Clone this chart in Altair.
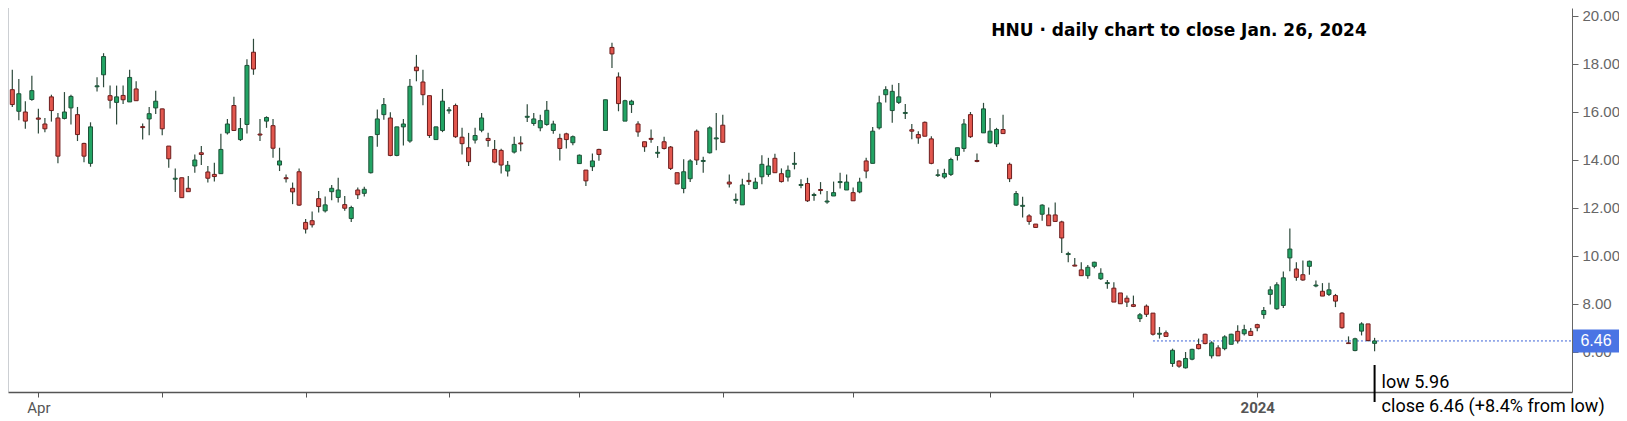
import altair as alt
import pandas as pd

# ---- OHLC values (daily candles, oldest first) ----
opens = [16.93, 16.03, 16.00, 16.52, 15.75, 15.50, 16.63, 15.75, 15.73, 16.17,
         15.89, 14.69, 13.86, 17.05, 17.55, 16.68, 16.40, 16.69, 16.42, 16.96,
         15.39, 15.71, 16.17, 16.13, 14.58, 13.20, 13.26, 12.82, 13.75, 14.30,
         13.50, 13.40, 13.43, 15.13, 16.27, 14.85, 15.48, 18.49, 15.08, 15.62,
         15.43, 13.79, 13.26, 12.82, 13.51, 11.40, 11.47, 12.39, 11.88, 12.68,
         12.44, 12.14, 11.56, 12.75, 12.61, 13.47, 15.06, 15.89, 15.75, 14.19,
         15.38, 14.79, 17.87, 17.25, 16.68, 14.85, 15.23, 16.05, 16.27, 14.95,
         14.51, 14.83, 15.24, 14.90, 14.44, 14.40, 13.54, 14.33, 14.71, 15.78,
         15.52, 15.34, 15.48, 15.23, 14.90, 15.09, 14.72, 13.85, 13.58, 13.72,
         14.44, 15.23, 18.69, 17.46, 15.62, 16.31, 15.50, 14.76, 14.90, 14.28,
         14.76, 14.54, 13.47, 12.81, 13.22, 15.20, 13.94, 14.30, 14.88, 15.45,
         13.08, 12.32, 12.13, 13.15, 12.81, 13.30, 13.40, 14.07, 13.43, 13.29,
         13.82, 12.94, 13.02, 12.52, 12.77, 12.25, 12.50, 13.06, 12.75, 12.64,
         12.67, 13.96, 13.86, 15.34, 16.72, 16.06, 16.40, 15.94, 15.26, 15.06,
         15.57, 14.88, 13.36, 13.29, 13.40, 14.19, 14.48, 15.89, 13.98, 15.13,
         14.72, 14.67, 15.27, 13.82, 12.12, 12.07, 11.67, 11.33, 11.74, 11.71,
         11.71, 11.42, 10.06, 9.62, 9.42, 9.18, 9.57, 9.05, 8.85, 8.66,
         8.46, 8.24, 7.97, 7.39, 7.91, 7.62, 6.74, 6.80, 5.52, 5.62,
         5.34, 5.70, 6.31, 6.74, 5.84, 6.17, 6.14, 6.32, 6.86, 6.76,
         6.86, 7.14, 7.56, 8.40, 7.80, 7.94, 9.92, 9.46, 9.22, 9.57,
         8.75, 8.53, 8.40, 8.35, 7.62, 6.38, 6.06, 6.87, 7.17, 6.36]
highs = [17.76, 17.37, 16.45, 17.51, 16.13, 15.75, 16.72, 15.96, 16.83, 16.72,
         16.21, 14.72, 15.57, 17.45, 18.45, 17.10, 17.10, 17.10, 17.76, 17.28,
         15.52, 16.21, 16.89, 16.13, 14.58, 13.65, 13.26, 13.33, 14.23, 14.58,
         13.75, 13.89, 15.09, 15.71, 16.63, 15.75, 18.20, 19.05, 15.71, 15.82,
         15.71, 14.51, 13.40, 13.06, 13.65, 11.54, 11.85, 12.71, 12.48, 12.96,
         13.26, 12.50, 12.09, 12.85, 12.89, 14.99, 16.10, 16.58, 15.99, 15.38,
         15.71, 17.37, 18.38, 17.76, 16.68, 15.38, 16.96, 16.21, 16.35, 15.34,
         15.13, 15.34, 15.96, 15.13, 14.83, 14.47, 13.96, 14.97, 14.99, 16.32,
         15.96, 15.89, 16.46, 15.64, 15.09, 15.13, 15.02, 14.23, 13.58, 14.27,
         14.47, 16.51, 18.89, 17.65, 16.51, 16.51, 15.61, 14.76, 15.27, 14.58,
         14.97, 14.58, 13.47, 14.03, 14.03, 15.27, 14.14, 15.41, 15.96, 15.89,
         13.40, 12.60, 13.22, 13.47, 13.26, 14.20, 14.09, 14.26, 13.65, 13.77,
         14.33, 13.20, 13.26, 12.64, 13.08, 12.71, 13.10, 13.47, 13.40, 12.85,
         13.26, 14.09, 15.37, 16.68, 17.07, 17.14, 17.21, 16.33, 15.50, 15.20,
         15.60, 14.99, 13.61, 13.64, 14.09, 14.51, 15.71, 16.00, 14.27, 16.38,
         15.75, 15.34, 15.89, 13.89, 12.71, 12.47, 11.74, 11.33, 12.16, 12.02,
         12.23, 11.47, 10.18, 9.92, 9.74, 9.62, 9.76, 9.49, 9.00, 8.91,
         8.46, 8.35, 8.35, 7.62, 7.98, 7.62, 7.04, 6.90, 6.14, 5.66,
         6.00, 6.14, 6.56, 6.76, 6.45, 6.28, 6.70, 6.76, 7.11, 7.14,
         7.00, 7.18, 7.87, 8.74, 8.91, 9.35, 11.15, 9.74, 9.81, 9.81,
         8.98, 8.87, 8.88, 8.42, 7.66, 6.65, 6.59, 7.24, 7.17, 6.59]
lows = [16.21, 15.66, 15.30, 16.47, 15.10, 15.16, 15.60, 13.86, 15.69, 15.48,
        14.79, 13.91, 13.72, 16.85, 17.03, 16.15, 15.48, 16.33, 16.42, 16.47,
        14.85, 15.03, 15.92, 15.03, 13.68, 12.67, 12.43, 12.68, 13.47, 13.79,
        13.06, 13.10, 13.43, 15.06, 15.23, 14.79, 15.10, 17.55, 14.79, 15.34,
        14.09, 13.54, 13.06, 12.16, 12.09, 10.94, 11.19, 11.81, 11.81, 12.32,
        12.23, 11.88, 11.42, 12.37, 12.48, 13.44, 14.55, 15.68, 14.16, 14.16,
        14.60, 14.72, 17.28, 16.28, 14.92, 14.85, 15.16, 15.93, 14.92, 14.23,
        13.75, 14.69, 15.16, 14.55, 13.86, 13.44, 13.31, 14.27, 14.36, 15.58,
        15.43, 15.20, 15.43, 15.09, 13.98, 14.48, 14.61, 13.85, 12.92, 13.54,
        13.97, 15.23, 17.83, 16.03, 15.62, 15.96, 14.97, 14.34, 14.72, 14.09,
        14.44, 13.58, 13.00, 12.61, 13.08, 13.79, 13.47, 14.27, 14.41, 14.72,
        12.85, 12.18, 12.13, 12.96, 12.78, 12.99, 13.30, 13.47, 13.06, 13.10,
        13.61, 12.82, 12.25, 12.30, 12.57, 12.18, 12.50, 12.81, 12.75, 12.30,
        12.61, 13.24, 13.86, 15.27, 16.40, 15.55, 16.33, 15.71, 14.86, 14.68,
        14.99, 13.82, 13.29, 13.22, 13.33, 13.98, 14.34, 14.92, 13.91, 15.13,
        14.69, 14.54, 15.10, 13.08, 12.09, 11.60, 11.30, 11.19, 11.47, 11.26,
        11.44, 10.12, 9.74, 9.57, 9.18, 9.05, 9.49, 9.00, 8.63, 8.08,
        8.01, 7.87, 7.87, 7.25, 7.46, 6.69, 6.56, 6.63, 5.38, 5.34,
        5.31, 5.66, 6.11, 6.32, 5.73, 5.84, 6.07, 6.32, 6.35, 6.69,
        6.69, 6.86, 7.39, 7.98, 7.76, 7.83, 9.36, 8.97, 8.97, 9.22,
        8.70, 8.33, 8.33, 7.87, 6.97, 6.35, 6.03, 6.69, 6.44, 6.03]
closes = [16.31, 16.76, 15.62, 16.89, 15.70, 15.30, 16.06, 14.16, 16.00, 16.65,
          15.06, 14.16, 15.38, 17.09, 18.31, 16.49, 16.63, 16.51, 17.44, 16.47,
          15.35, 15.93, 16.45, 15.30, 14.05, 13.24, 12.43, 12.68, 14.00, 14.23,
          13.24, 13.31, 14.44, 15.50, 15.23, 15.31, 17.94, 17.79, 15.04, 15.77,
          14.49, 13.96, 13.22, 12.67, 12.12, 11.12, 11.30, 12.06, 12.13, 12.82,
          12.75, 11.99, 12.02, 12.55, 12.78, 14.97, 15.71, 16.31, 14.19, 15.38,
          15.50, 17.07, 17.72, 16.72, 15.02, 15.38, 16.45, 16.09, 14.97, 14.68,
          13.93, 15.02, 15.75, 14.81, 13.91, 13.79, 13.78, 14.65, 14.67, 15.82,
          15.71, 15.64, 16.07, 15.50, 14.48, 14.85, 14.97, 14.20, 13.13, 13.96,
          14.23, 16.51, 18.42, 16.35, 16.47, 16.45, 15.17, 14.55, 14.86, 14.32,
          14.48, 13.65, 13.00, 13.51, 13.96, 14.00, 13.98, 15.34, 14.92, 14.74,
          13.00, 12.36, 12.96, 13.10, 13.08, 13.82, 13.75, 13.47, 13.10, 13.57,
          13.86, 12.98, 12.30, 12.56, 12.73, 12.29, 12.64, 13.10, 13.08, 12.30,
          13.08, 13.54, 15.20, 16.38, 16.93, 16.86, 16.63, 15.98, 15.20, 14.92,
          14.99, 13.86, 13.38, 13.44, 14.02, 14.51, 15.50, 14.97, 13.94, 16.13,
          15.20, 15.27, 15.10, 13.22, 12.60, 12.11, 11.44, 11.19, 12.12, 11.26,
          11.44, 10.75, 10.10, 9.58, 9.18, 9.53, 9.74, 9.28, 8.89, 8.08,
          8.01, 8.08, 7.90, 7.55, 7.57, 6.74, 6.78, 6.65, 6.07, 5.41,
          5.73, 6.11, 6.14, 6.35, 6.38, 5.84, 6.63, 6.74, 6.46, 6.93,
          6.69, 7.01, 7.73, 8.59, 8.80, 9.09, 10.29, 9.11, 9.00, 9.78,
          8.79, 8.33, 8.59, 8.12, 7.01, 6.35, 6.55, 7.17, 6.48, 6.46]

# ---- axis / label content ----
month_start_idx = [4, 23, 45, 67, 87, 109, 129, 150, 172, 191]
month_labels = ["Apr", "", "", "", "", "", "", "", "", "2024"]
y_ticks = [6, 8, 10, 12, 14, 16, 18, 20]
title_text = "HNU \u00b7 daily chart to close Jan. 26, 2024"
last_close = 6.46
low_text = "low 5.96"
close_text = "close 6.46 (+8.4% from low)"
price_line_start = 175

# ---- styling ----
GREEN, GREEN_EDGE = "#22a464", "#1d5238"
RED, RED_EDGE = "#e2574e", "#6e1d1d"
WICK = "#2e4a3c"
AXIS_GRAY = "#666666"
W, H = 1564, 384

n = len(opens)
df = pd.DataFrame({"i": list(range(n)), "open": opens, "high": highs,
                   "low": lows, "close": closes})
df["dir"] = ["up" if c >= o else "down" for o, c in zip(opens, closes)]

xscale = alt.Scale(domain=[0.107, 238.52], nice=False, zero=False)
yscale = alt.Scale(domain=[4.333, 20.333], nice=False, zero=False)

label_expr = " : ".join(
    f"datum.value == {k} ? '{v}'" for k, v in zip(month_start_idx, month_labels)
) + " : ''"

xaxis = alt.Axis(values=month_start_idx, labelExpr=label_expr, title=None,
                 grid=False, domainColor="#555555", domainWidth=1.5,
                 tickColor="#555555", tickSize=5, labelColor="#555555",
                 labelFont="Roboto", labelFontSize=15, labelPadding=3,
                 labelOverlap=False, labelFlush=False,
                 labelFontWeight={"condition": {"test": f"datum.value == {month_start_idx[-1]}",
                                                "value": "bold"}, "value": "normal"})
yaxis = alt.Axis(orient="right", values=y_ticks, format=".2f", title=None,
                 grid=False, domainColor=AXIS_GRAY, tickColor=AXIS_GRAY,
                 tickSize=6, labelColor=AXIS_GRAY, labelFont="Liberation Sans",
                 labelFontSize=15, labelPadding=4)

base = alt.Chart(df)

wicks = base.mark_rule(color=WICK, strokeWidth=1.2, clip=True).encode(
    x=alt.X("i:Q", scale=xscale, axis=xaxis),
    y=alt.Y("low:Q", scale=yscale, axis=yaxis),
    y2="high:Q",
)

bodies = base.mark_bar(size=4, strokeWidth=1, clip=True).encode(
    x="i:Q",
    y="open:Q",
    y2="close:Q",
    fill=alt.Fill("dir:N", scale=alt.Scale(domain=["up", "down"], range=[GREEN, RED]), legend=None),
    stroke=alt.Stroke("dir:N", scale=alt.Scale(domain=["up", "down"], range=[GREEN_EDGE, RED_EDGE]), legend=None),
)

pl_df = pd.DataFrame({"i": [price_line_start], "v": [last_close], "label": [f"{last_close:.2f}"]})
price_line = alt.Chart(pl_df).mark_rule(color="#3b63d6", strokeDash=[2, 2], strokeWidth=1).encode(
    x="i:Q", x2=alt.value(W), y="v:Q"
)
price_box = alt.Chart(pl_df).transform_calculate(
    top="datum.v + 0.48", bot="datum.v - 0.48"
).mark_rect(color="#4a74e4").encode(
    x=alt.value(W + 1), x2=alt.value(W + 47), y="top:Q", y2="bot:Q"
)
price_text = alt.Chart(pl_df).mark_text(color="white", font="Liberation Sans", fontSize=16,
                                        align="center", baseline="middle").encode(
    x=alt.value(W + 24), y="v:Q", text="label:N"
)

last_df = pd.DataFrame({"i": [n - 1], "t1": [low_text], "t2": [close_text]})
ann_line = alt.Chart(last_df).mark_rule(color="black", strokeWidth=2).encode(
    x="i:Q", y=alt.value(357), y2=alt.value(394)
)
ann_low = alt.Chart(last_df).mark_text(align="left", baseline="alphabetic", dx=7,
                                       font="Roboto", fontSize=18, color="black").encode(
    x="i:Q", y=alt.value(380), text="t1:N"
)
ann_close = alt.Chart(last_df).mark_text(align="left", baseline="alphabetic", dx=7,
                                         font="Roboto", fontSize=18, color="black").encode(
    x="i:Q", y=alt.value(404), text="t2:N"
)

title_df = pd.DataFrame({"t": [title_text]})
title = alt.Chart(title_df).mark_text(font="DejaVu Sans", fontWeight="bold", fontSize=17,
                                      color="black", align="center", baseline="middle").encode(
    x=alt.value(1171), y=alt.value(23), text="t:N"
)

left_edge = alt.Chart(title_df).mark_rule(color="#9aa0a8", strokeWidth=1).encode(
    x=alt.value(0), y=alt.value(0), y2=alt.value(H)
)

chart = alt.layer(
    left_edge, price_line, wicks, bodies, price_box, price_text,
    ann_line, ann_low, ann_close, title
).properties(
    width=W, height=H,
    padding={"left": 0, "top": 0, "right": 47, "bottom": 30},
    autosize=alt.AutoSizeParams(type="none"),
    background="white",
).configure_view(stroke="transparent")

chart.save("out.html", embed_options={"renderer": "svg", "actions": False})
